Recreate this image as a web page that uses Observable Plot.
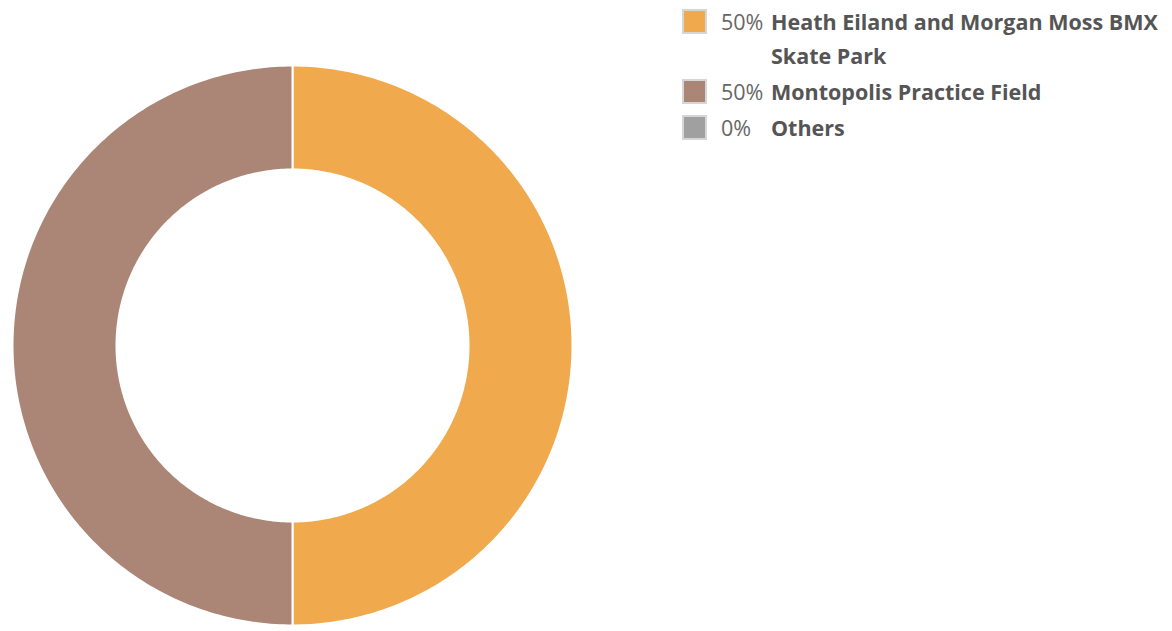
<!DOCTYPE html>
<html>
<head>
<meta charset="utf-8">
<script src="https://cdn.jsdelivr.net/npm/d3@7"></script>
<script src="https://cdn.jsdelivr.net/npm/@observablehq/plot@0.6"></script>
<style>
  html, body { margin: 0; padding: 0; background: #fff; }
  #wrap { position: relative; width: 1172px; height: 631px; overflow: hidden; font-family: "Open Sans", sans-serif; }
  #chart { position: absolute; left: 0; top: 0; }
  #legend { position: absolute; left: 682px; top: 5px; width: 490px; }
  .row { display: flex; align-items: flex-start; font-size: 21.5px; line-height: 34px; color: #555; margin-bottom: 2px; }
  .sw { width: 21px; height: 21px; border: 2px solid #d6d6d6; margin-top: 4px; flex: none; box-sizing: content-box; }
  .pct { width: 50px; margin-left: 14px; flex: none; color: #666; }
  .lab { font-weight: 700; color: #555; }
</style>
</head>
<body>
<div id="wrap">
  <div id="chart"></div>
  <div id="legend"></div>
</div>
<script>
const categories = ["Heath Eiland and Morgan Moss BMX Skate Park", "Montopolis Practice Field", "Others"];
const values = [1, 1, 0];
const percentLabels = ["50%", "50%", "0%"];
const colors = ["#F0AA4D", "#AB8676", "#A0A0A0"];

const outerR = 280, innerR = 176;
const W = 1172, H = 631;

// compute arc polygons from pie angles (clockwise from 12 o'clock)
const pie = d3.pie().sort(null).value(d => d.value)(categories.map((c, i) => ({name: c, value: values[i]})));
const pts = [];
pie.forEach(a => {
  if (a.endAngle - a.startAngle <= 0) return;
  const n = 200;
  const ring = [];
  for (let k = 0; k <= n; k++) {
    const t = a.startAngle + (a.endAngle - a.startAngle) * k / n;
    ring.push([outerR * Math.sin(t), outerR * Math.cos(t)]);
  }
  for (let k = n; k >= 0; k--) {
    const t = a.startAngle + (a.endAngle - a.startAngle) * k / n;
    ring.push([innerR * Math.sin(t), innerR * Math.cos(t)]);
  }
  ring.push(ring[0]);
  ring.forEach(([x, y]) => pts.push({name: a.data.name, x, y}));
});

const chart = Plot.plot({
  width: W, height: H,
  margin: 0,
  axis: null,
  x: {domain: [-292, W - 292], range: [0, W]},
  y: {domain: [-(H - 345), 345], range: [H, 0]},
  color: {domain: categories, range: colors},
  marks: [
    Plot.line(pts, {x: "x", y: "y", z: "name", fill: "name", stroke: "white", strokeWidth: 2, curve: "linear"})
  ]
});
document.getElementById("chart").appendChild(chart);

const legend = document.getElementById("legend");
categories.forEach((c, i) => {
  const row = document.createElement("div");
  row.className = "row";
  row.innerHTML = `<div class="sw" style="background:${colors[i]}"></div><div class="pct">${percentLabels[i]}</div><div class="lab">${c}</div>`;
  legend.appendChild(row);
});
</script>
</body>
</html>
